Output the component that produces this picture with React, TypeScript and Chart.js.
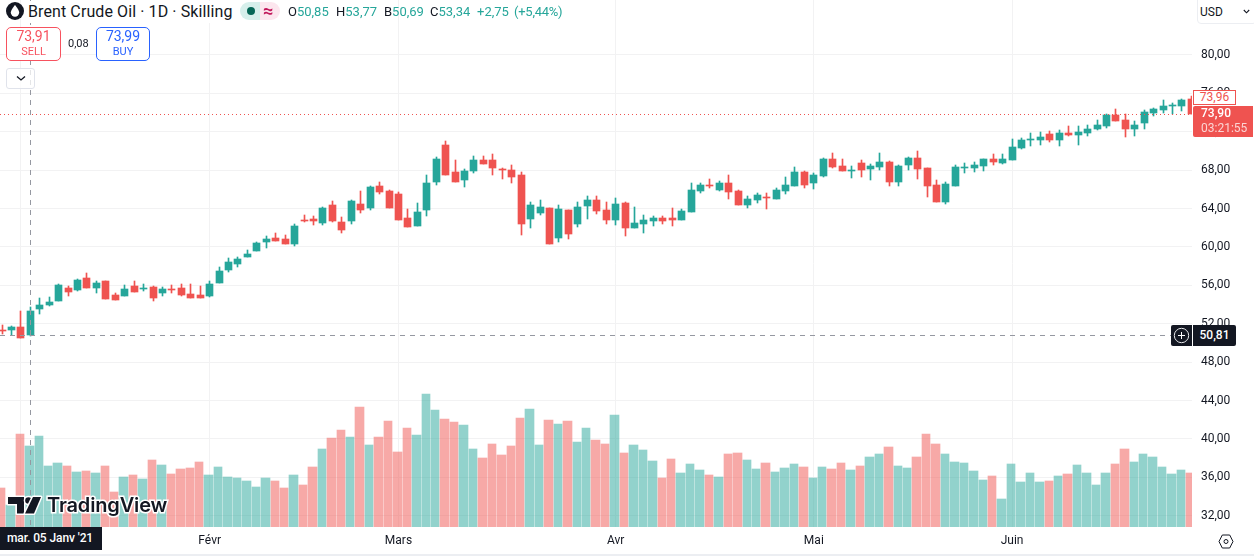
import React, { useEffect, useRef } from "react";
import { Chart, registerables } from "chart.js";

Chart.register(...registerables);

const opens = [
  51.39,51.35,51.67,50.85,53.54,53.96,54.38,55.73,55.52,56.77,
  55.73,56.46,55.00,54.90,55.94,55.63,55.83,55.21,55.63,55.73,
  55.10,55.00,54.90,56.25,57.60,58.23,58.96,59.58,60.52,60.94,
  60.83,60.31,62.81,62.92,62.50,64.38,62.60,62.71,64.48,64.06,
  66.36,65.84,65.52,63.02,62.19,63.86,66.77,70.63,67.81,66.98,
  67.92,69.06,69.06,68.13,68.02,67.50,62.92,63.54,64.06,60.94,
  63.86,62.40,64.27,64.90,63.86,62.81,64.58,61.98,62.40,62.71,
  63.02,63.02,62.81,63.65,65.84,66.46,65.94,66.67,65.84,64.38,
  64.90,65.21,65.00,65.84,66.36,67.81,66.67,67.40,69.17,68.44,
  67.92,68.75,68.13,68.34,68.86,66.77,68.54,69.27,68.23,66.46,
  64.69,66.36,68.23,68.23,68.44,69.17,68.75,69.07,70.32,71.15,
  71.15,71.78,71.15,71.88,71.67,71.88,72.30,72.61,73.75,73.23,
  72.30,72.92,73.96,74.28,74.69,74.69,75.42,
];
const highs = [
  51.88,51.77,53.33,53.77,54.69,54.79,56.15,55.94,56.67,57.29,
  56.46,56.46,55.21,56.04,56.46,56.15,55.94,55.83,56.04,56.15,
  56.15,55.94,56.46,57.92,58.85,58.96,59.69,60.52,61.15,61.46,
  61.25,62.40,63.33,63.23,64.17,64.79,63.13,64.90,65.84,66.36,
  66.77,65.94,65.73,63.96,64.59,67.50,69.38,71.04,69.06,68.13,
  69.48,69.48,69.69,68.23,68.54,67.81,64.69,64.90,64.06,64.38,
  63.86,64.69,65.31,65.31,64.69,65.10,64.69,64.17,63.33,63.23,
  63.23,64.06,63.96,66.67,66.67,67.09,66.88,67.50,65.94,65.31,
  65.63,65.63,66.15,67.29,68.33,67.92,67.71,69.27,69.79,69.17,
  68.44,69.06,68.65,69.79,68.96,68.54,69.38,70.00,68.23,66.98,
  66.77,68.55,68.75,68.86,69.17,69.69,69.69,71.25,71.36,71.88,
  71.98,72.09,72.19,72.61,72.61,72.71,73.23,73.86,74.38,73.86,
  73.13,74.28,74.48,75.32,75.00,75.42,75.73,
];
const lows = [
  50.94,50.80,50.52,50.69,53.02,53.85,54.38,54.90,55.42,55.73,
  55.21,54.58,54.48,54.90,55.31,55.42,54.38,54.90,55.21,54.90,
  54.69,54.69,54.79,56.25,57.40,57.92,58.96,59.58,59.90,60.63,
  60.31,60.10,62.60,62.29,62.29,62.60,61.46,62.40,63.54,63.86,
  65.52,64.06,62.81,62.08,62.19,63.23,66.46,67.50,66.77,66.25,
  67.71,68.65,67.50,67.09,66.67,61.25,61.98,63.33,60.32,60.52,
  60.84,62.08,62.92,63.44,62.40,62.29,61.15,61.98,61.46,62.19,
  62.40,62.19,62.81,63.65,65.63,66.15,65.84,65.00,64.38,64.06,
  64.59,63.96,65.00,65.52,66.36,66.15,66.04,67.29,68.23,67.92,
  67.19,67.29,66.98,68.02,66.36,66.36,68.02,67.09,65.21,64.69,
  64.48,66.36,67.71,67.82,67.92,68.55,68.65,69.07,70.21,70.52,
  70.63,70.94,70.52,71.57,70.63,71.57,72.19,72.40,73.13,71.46,
  71.57,72.30,73.65,73.96,73.86,74.17,73.90,
];
const closes = [
  51.29,51.67,50.52,53.34,53.96,54.27,56.04,55.31,56.56,55.73,
  56.25,54.58,54.48,55.63,55.31,55.73,54.69,55.63,55.52,55.00,
  54.69,54.69,56.15,57.50,58.44,58.75,59.27,60.42,60.83,60.63,
  60.31,62.19,62.71,62.71,64.06,62.71,61.77,64.79,63.86,66.25,
  65.73,64.06,62.81,62.08,63.65,66.67,69.17,67.50,66.77,67.92,
  69.06,68.65,68.23,68.02,67.29,62.40,64.38,64.17,60.32,63.96,
  61.36,64.17,64.90,63.75,62.81,64.48,61.98,62.50,62.81,63.02,
  62.71,62.81,63.75,65.94,66.46,66.36,66.67,65.73,64.38,65.00,
  65.42,65.10,65.94,66.46,67.81,66.46,67.50,69.17,68.34,67.92,
  68.02,68.02,68.44,68.86,66.77,68.44,69.27,68.13,66.36,64.69,
  66.57,68.34,68.34,68.55,69.17,68.86,69.17,70.42,71.15,71.25,
  71.46,71.15,71.88,71.67,71.98,72.30,72.71,73.75,73.13,72.30,
  72.71,74.07,74.38,74.69,74.80,75.32,73.90,
];
const volumes = [
  39,22,93,81,91,61,64,61,55,56,
  54,61,35,50,52,48,67,62,53,58,
  59,65,52,60,50,49,46,40,49,46,
  39,52,42,60,78,89,97,90,120,82,
  90,106,75,99,92,133,117,108,105,102,
  78,69,83,72,81,109,118,82,107,103,
  106,85,99,87,83,112,74,82,77,66,
  49,68,54,63,57,52,50,73,74,67,
  58,64,55,59,63,60,49,60,58,64,
  57,61,70,73,80,61,59,70,93,83,
  73,65,64,56,47,51,28,63,45,54,
  45,46,51,53,62,54,42,54,63,78,
  65,73,70,60,53,57,54,
];

const priceTicks = [80, 76, 72, 68, 64, 60, 56, 52, 48, 44, 40, 36, 32];
const monthTickIndex = [2, 22, 42, 65, 86, 107];
const monthLabels = ["Janv", "Févr", "Mars", "Avr", "Mai", "Juin"];

const lastPrice = 73.9;
const crosshairIndex = 3;
const crosshairPrice = 50.81;

const UP = "#26a69a";
const DOWN = "#ef5350";
const UP_VOL = "rgba(38,166,154,0.5)";
const DOWN_VOL = "rgba(239,83,80,0.5)";
const GRID = "#f2f2f3";
const TEXT = "#131722";
const FONT = "Roboto, sans-serif";

const xs = closes.map((_, i) => i);
const isUp = closes.map((c, i) => c >= opens[i]);

const zeroPadding = (s: any) => {
  s.paddingTop = 0;
  s.paddingBottom = 0;
  s.paddingLeft = 0;
  s.paddingRight = 0;
};

const snapPlugin = {
  id: "snapBars",
  beforeDatasetsDraw(chart: any) {
    chart.data.datasets.forEach((ds: any, di: number) => {
      const meta = chart.getDatasetMeta(di);
      meta.data.forEach((el: any) => {
        if (ds.snapKind === "volume") {
          const l = Math.floor(el.x - 4.72);
          const r = Math.floor(el.x + 4.72) - 1;
          el.x = (l + r) / 2;
          el.width = r - l;
          el.y = Math.round(el.y);
          el.base = Math.round(el.base);
        } else {
          el.x = Math.floor(el.x) + 0.5;
          let top = Math.round(Math.min(el.y, el.base));
          let bottom = Math.round(Math.max(el.y, el.base));
          if (bottom === top) bottom = top + 1;
          el.y = top;
          el.base = bottom;
          el.height = bottom - top;
        }
      });
    });
  },
};

const linesPlugin = {
  id: "priceLines",
  afterDatasetsDraw(chart: any) {
    const { ctx, chartArea, scales } = chart;
    const lastY = Math.round(scales.y.getPixelForValue(lastPrice)) + 0.5;
    const crossY = Math.round(scales.y.getPixelForValue(crosshairPrice)) + 0.5;
    const crossX = Math.floor(scales.x.getPixelForValue(crosshairIndex)) + 0.5;
    ctx.save();
    ctx.lineWidth = 1;
    ctx.strokeStyle = DOWN;
    ctx.setLineDash([1, 3]);
    ctx.beginPath();
    ctx.moveTo(chartArea.left, lastY);
    ctx.lineTo(chartArea.right, lastY);
    ctx.stroke();
    ctx.strokeStyle = "#9598a1";
    ctx.setLineDash([5, 5]);
    ctx.beginPath();
    ctx.moveTo(chartArea.left, crossY);
    ctx.lineTo(chartArea.right, crossY);
    ctx.moveTo(crossX, chartArea.top);
    ctx.lineTo(crossX, chartArea.bottom);
    ctx.stroke();
    ctx.restore();
  },
};

const abs = (x: number, y: number, extra: React.CSSProperties = {}): React.CSSProperties => ({
  position: "absolute",
  left: x,
  top: y,
  whiteSpace: "nowrap",
  fontFamily: FONT,
  ...extra,
});

const Ohlc = ({ x, k, v }: { x: number; k: string; v: string }) => (
  <span style={abs(x, 4, { fontSize: 13, lineHeight: "16px", color: UP })}>
    <span style={{ color: TEXT }}>{k}</span>
    {v}
  </span>
);

export default function App() {
  const ref = useRef<HTMLCanvasElement>(null);

  useEffect(() => {
    if (!ref.current) return;
    const chart = new Chart(ref.current, {
      type: "bar",
      data: {
        datasets: [
          {
            label: "Volume",
            yAxisID: "v",
            snapKind: "volume",
            order: 3,
            data: xs.map((x) => ({ x, y: volumes[x] })),
            backgroundColor: xs.map((x) => (isUp[x] ? UP_VOL : DOWN_VOL)),
            barThickness: 8,
            grouped: false,
          },
          {
            label: "Wick",
            yAxisID: "y",
            order: 2,
            data: xs.map((x) => ({ x, y: [lows[x], highs[x]] })),
            backgroundColor: xs.map((x) => (isUp[x] ? UP : DOWN)),
            barThickness: 1,
            grouped: false,
          },
          {
            label: "Brent Crude Oil",
            yAxisID: "y",
            order: 1,
            data: xs.map((x) => ({ x, y: [opens[x], closes[x]] })),
            backgroundColor: xs.map((x) => (isUp[x] ? UP : DOWN)),
            barThickness: 7,
            grouped: false,
          },
        ] as any,
      },
      options: {
        responsive: false,
        animation: false,
        layout: { padding: 0 },
        plugins: { legend: { display: false }, tooltip: { enabled: false } },
        scales: {
          x: {
            type: "linear",
            offset: false,
            min: -0.2119,
            max: 126.06,
            afterBuildTicks: (s: any) => {
              s.ticks = monthTickIndex.map((value) => ({ value }));
            },
            afterFit: (s: any) => {
              s.height = 29;
              zeroPadding(s);
            },
            border: { display: false },
            grid: { color: GRID, offset: false, drawTicks: false, tickLength: 0 },
            ticks: {
              autoSkip: false,
              maxRotation: 0,
              padding: 7,
              color: TEXT,
              font: { family: FONT, size: 12 },
              callback: (v: any) => monthLabels[monthTickIndex.indexOf(Number(v))] ?? "",
            },
          },
          y: {
            type: "linear",
            position: "right",
            min: 30.833,
            max: 85.729,
            afterBuildTicks: (s: any) => {
              s.ticks = priceTicks.map((value) => ({ value }));
            },
            afterFit: (s: any) => {
              s.width = 62;
              zeroPadding(s);
            },
            border: { display: false },
            grid: { color: GRID, drawTicks: false, tickLength: 0 },
            ticks: {
              padding: 9,
              color: TEXT,
              font: { family: FONT, size: 12 },
              callback: (v: any) => Number(v).toFixed(2).replace(".", ","),
            },
          },
          v: { type: "linear", display: false, min: 0, max: 527 },
        },
      } as any,
      plugins: [snapPlugin, linesPlugin],
    } as any);
    return () => chart.destroy();
  }, []);

  return (
    <div style={{ position: "absolute", left: 0, top: 0, width: 1254, height: 556, overflow: "hidden", background: "#fff" }}>
      <canvas ref={ref} width={1254} height={556} style={{ position: "absolute", left: 0, top: 0, display: "block" }} />

      {/* Symbol icon and title */}
      <svg style={{ position: "absolute", left: 6, top: 2 }} width={18} height={18} viewBox="0 0 18 18">
        <circle cx={9} cy={9} r={9} fill="#131722" />
        <path d="M9 3 C9 3 4.8 8 4.8 10.6 A4.2 4.2 0 0 0 13.2 10.6 C13.2 8 9 3 9 3 Z" fill="#fff" />
      </svg>
      <div style={abs(28, 1, { fontSize: 16, lineHeight: "22px", letterSpacing: "0.1px", color: TEXT, background: "#fff", paddingRight: 6 })}>
        Brent Crude Oil · 1D · Skilling
      </div>

      {/* Market status pills */}
      <div style={{ position: "absolute", left: 240, top: 2, width: 20, height: 18, background: "#d6efeb", borderRadius: "9px 0 0 9px" }} />
      <div style={{ position: "absolute", left: 260, top: 2, width: 20, height: 18, background: "#fce6ee", borderRadius: "0 9px 9px 0" }} />
      <div style={{ position: "absolute", left: 247, top: 7, width: 8, height: 8, background: "#056656", borderRadius: 4 }} />
      <div style={abs(263, 1, { fontSize: 18, lineHeight: "20px", fontWeight: 700, color: "#c2185b" })}>≈</div>

      {/* OHLC */}
      <Ohlc x={288} k="O" v="50,85" />
      <Ohlc x={336} k="H" v="53,77" />
      <Ohlc x={384} k="B" v="50,69" />
      <Ohlc x={430} k="C" v="53,34" />
      <span style={abs(477, 4, { fontSize: 13, lineHeight: "16px", color: UP })}>+2,75</span>
      <span style={abs(514, 4, { fontSize: 13, lineHeight: "16px", letterSpacing: "-0.25px", color: UP })}>(+5,44%)</span>

      {/* Sell / Buy */}
      <div style={{ position: "absolute", left: 6, top: 27, width: 55, height: 34, boxSizing: "border-box", border: "1px solid #f7525f", borderRadius: 5, background: "#fff", textAlign: "center", color: "#f7525f", fontFamily: FONT }}>
        <div style={{ fontSize: 14, lineHeight: "17px", marginTop: 0 }}>73,91</div>
        <div style={{ fontSize: 11, lineHeight: "14px" }}>SELL</div>
      </div>
      <div style={abs(68, 37, { fontSize: 11, lineHeight: "14px", color: TEXT })}>0,08</div>
      <div style={{ position: "absolute", left: 96, top: 27, width: 54, height: 34, boxSizing: "border-box", border: "1px solid #2962ff", borderRadius: 5, background: "#fff", textAlign: "center", color: "#2962ff", fontFamily: FONT }}>
        <div style={{ fontSize: 14, lineHeight: "17px", marginTop: 0 }}>73,99</div>
        <div style={{ fontSize: 11, lineHeight: "14px" }}>BUY</div>
      </div>
      <div style={{ position: "absolute", left: 6, top: 68, width: 29, height: 21, boxSizing: "border-box", border: "1px solid #e0e3eb", borderRadius: 3, background: "rgba(255,255,255,0.75)" }} />
      <svg style={{ position: "absolute", left: 16, top: 75 }} width={10} height={7} viewBox="0 0 10 7">
        <path d="M1 1.5 L5 5 L9 1.5" stroke={TEXT} strokeWidth={1.3} fill="none" />
      </svg>

      {/* Currency button */}
      <div style={{ position: "absolute", left: 1197, top: -4, width: 60, height: 28, boxSizing: "border-box", border: "1px solid #eceef2", borderRadius: 4, background: "#fff" }} />
      <div style={abs(1200, 4, { fontSize: 12, lineHeight: "16px", color: TEXT })}>USD</div>
      <svg style={{ position: "absolute", left: 1243, top: 9 }} width={7} height={5} viewBox="0 0 7 5">
        <path d="M0.8 1 L3.5 3.8 L6.2 1" stroke={TEXT} strokeWidth={1.1} fill="none" />
      </svg>

      {/* Price labels */}
      <div style={{ position: "absolute", left: 1193, top: 90, width: 43, height: 15, boxSizing: "border-box", border: "1px solid #ef5350", background: "#fff", color: "#ef5350", fontFamily: FONT, fontSize: 12, lineHeight: "13px", textAlign: "center" }}>73,96</div>
      <div style={{ position: "absolute", left: 1193, top: 106, width: 60, height: 31, background: DOWN, borderRadius: "2px 0 0 2px", fontFamily: FONT, fontSize: 12, lineHeight: "15px", paddingLeft: 8, boxSizing: "border-box", color: "#fff" }}>
        <div style={{ fontWeight: 500 }}>73,90</div>
        <div style={{ opacity: 0.75 }}>03:21:55</div>
      </div>

      {/* Crosshair labels */}
      <div style={{ position: "absolute", left: 1171, top: 325, width: 21, height: 21, background: TEXT, borderRadius: "2px 0 0 2px" }} />
      <svg style={{ position: "absolute", left: 1173, top: 327 }} width={17} height={17} viewBox="0 0 17 17">
        <circle cx={8.5} cy={8.5} r={7.2} stroke="#e6e7ea" strokeWidth={1} fill="none" />
        <path d="M8.5 5 V12 M5 8.5 H12" stroke="#fff" strokeWidth={1} />
      </svg>
      <div style={{ position: "absolute", left: 1193, top: 325, width: 43, height: 21, background: TEXT, color: "#fff", fontFamily: FONT, fontSize: 12, fontWeight: 500, lineHeight: "21px", textAlign: "center", borderRadius: "0 2px 2px 0" }}>50,81</div>
      <div style={{ position: "absolute", left: 0, top: 527, width: 102, height: 23, background: TEXT, color: "#fff", fontFamily: FONT, fontSize: 12, fontWeight: 500, lineHeight: "23px", letterSpacing: "-0.1px", paddingLeft: 7, boxSizing: "border-box" }}>mar. 05 Janv '21</div>

      {/* Watermark */}
      <svg style={{ position: "absolute", left: 5, top: 494 }} width={40} height={24} viewBox="0 0 40 24">
        <g stroke="#fff" strokeWidth={3} paintOrder="stroke" fill="#131722" strokeLinejoin="round">
          <path d="M3 3 H19 V19.5 H12 V10 H3 Z" />
          <circle cx={23.5} cy={6.5} r={3.3} />
          <path d="M28 3 H36 L29 19.5 H20 Z" />
        </g>
      </svg>
      <div style={abs(47, 492, { fontFamily: "Inter, sans-serif", fontSize: 20, fontWeight: 600, lineHeight: "26px", color: "#131722", WebkitTextStroke: "3px #fff", paintOrder: "stroke fill", letterSpacing: "-0.15px" } as any)}>TradingView</div>

      {/* Settings icon */}
      <svg style={{ position: "absolute", left: 1218, top: 534 }} width={16} height={15} viewBox="0 0 16 15">
        <path d="M4.3 1 H11.7 L15 7.5 L11.7 14 H4.3 L1 7.5 Z" stroke={TEXT} strokeWidth={1} fill="none" />
        <circle cx={8} cy={7.5} r={2} stroke={TEXT} strokeWidth={1} fill="none" />
      </svg>

      {/* Bottom rule */}
      <div style={{ position: "absolute", left: 0, top: 554, width: 1254, height: 2, background: "#eceef2" }} />
    </div>
  );
}
